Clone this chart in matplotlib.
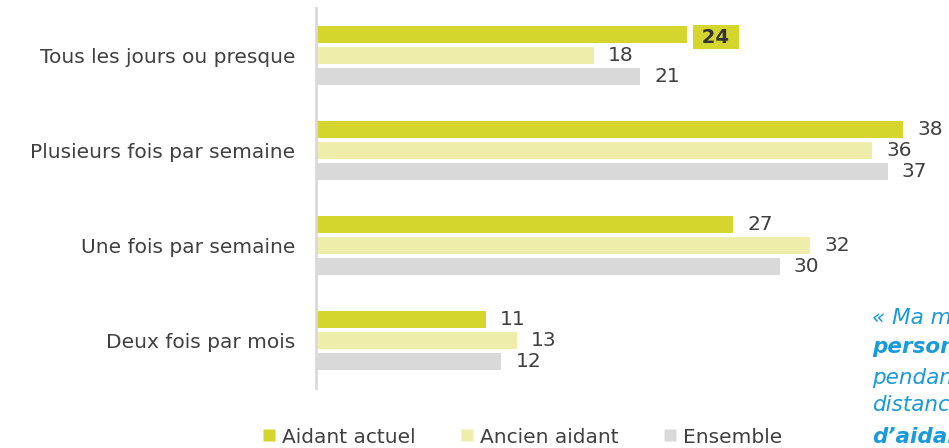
import matplotlib
matplotlib.use("Agg")
import matplotlib.pyplot as plt
from matplotlib.lines import Line2D
import numpy as np

categories = ["Tous les jours ou presque", "Plusieurs fois par semaine",
              "Une fois par semaine", "Deux fois par mois"]
series_names = ["Aidant actuel", "Ancien aidant", "Ensemble"]
aidant_actuel = [24, 38, 27, 11]
ancien_aidant = [18, 36, 32, 13]
ensemble = [21, 37, 30, 12]
colors = ["#d4d62e", "#eeeeaa", "#d9d9d9"]
quote_lines = ["« Ma mère est", "personne", "pendant", "distance", "d’aidant"]
quote_bold = [False, True, False, False, True]

plt.rcParams['font.family'] = ['DejaVu Sans']
W, H = 949, 448
fig = plt.figure(figsize=(W / 100, H / 100), dpi=100)
ax = fig.add_axes([316 / W, 1 - 388 / H, (W - 316) / W, 380 / H])

y = np.arange(len(categories))
off = 21 / 95
bh = 17 / 95
data = [aidant_actuel, ancien_aidant, ensemble]
for i, (vals, c) in enumerate(zip(data, colors)):
    ax.barh(y + (i - 1) * off, vals, height=bh, color=c, zorder=2)

ax.set_xlim(0, (W - 316) / 15.45)
ax.set_ylim(3.505, -0.495)

FS = 14.5
# value labels
for i, vals in enumerate(data):
    for j, v in enumerate(vals):
        yy = j + (i - 1) * off
        if i == 0 and j == 0:
            ax.annotate(f" {v} ", (v, yy), xytext=(29, -3), textcoords="offset pixels",
                        ha="center", va="center", fontsize=14, fontweight="bold",
                        color="#333333",
                        bbox=dict(boxstyle="square,pad=0.12", fc=colors[0], ec="none"))
        else:
            ax.annotate(str(v), (v, yy), xytext=(14, 0), textcoords="offset pixels",
                        ha="left", va="center", fontsize=FS, color="#404040")

ax.set_yticks(y)
ax.set_yticklabels(categories, fontsize=FS, color="#404040")
ax.tick_params(axis="y", length=0, pad=15)
ax.set_xticks([])
for s in ["top", "right", "bottom"]:
    ax.spines[s].set_visible(False)
ax.spines["left"].set_color("#d9d9d9")
ax.spines["left"].set_linewidth(2)

handles = [Line2D([], [], marker="s", linestyle="none", markersize=8,
                  markerfacecolor=c, markeredgecolor="none") for c in colors]
fig.legend(handles, series_names, loc="center", bbox_to_anchor=(522 / W, 1 - 437 / H),
           ncol=3, frameon=False, fontsize=FS, handletextpad=0.3,
           columnspacing=2.2, handlelength=0.7, labelcolor="#404040")

ys = [318, 347, 378, 405, 437]
for t, b, yp in zip(quote_lines, quote_bold, ys):
    fig.text(872 / W, 1 - yp / H, t, fontsize=15.5, style="italic",
             fontweight="bold" if b else "normal", color="#1a9ad8",
             ha="left", va="center")

fig.savefig("out.png", dpi=100)
